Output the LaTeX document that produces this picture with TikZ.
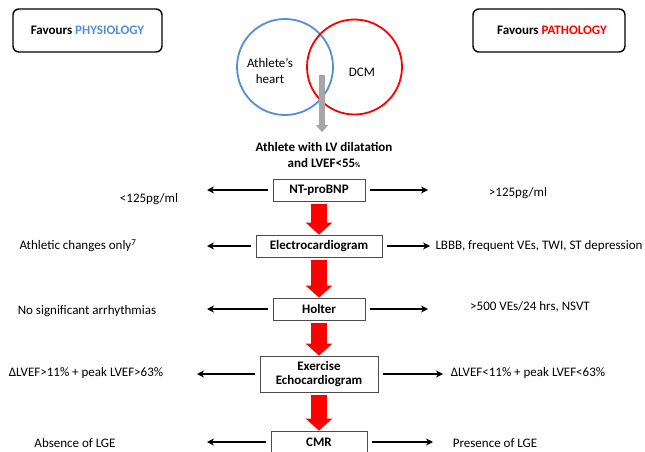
\documentclass[tikz,border=0pt]{standalone}
\usepackage{fontspec}
\setmainfont{Carlito}
\usetikzlibrary{arrows.meta, positioning}

\newcommand{\diagfont}{\fontsize{13}{15.5}\selectfont}

\begin{document}
\begin{tikzpicture}[x=1pt, y=-1pt,
    every node/.style={font=\diagfont},
    box/.style={rectangle, draw=black!70, line width=0.8pt, fill=white, minimum height=22pt, inner sep=2pt, align=center, font=\diagfont\bfseries},
    headbox/.style={rectangle, draw, rounded corners=6pt, line width=1.4pt, minimum height=43pt, font=\diagfont\bfseries},
    venn/.style={circle, line width=1.8pt, inner sep=0pt},
    arrow/.style={-{Stealth[length=7pt, width=7pt]}, line width=1.3pt},
    redarrow/.style={-{Triangle[length=12pt, width=26pt]}, line width=16pt, draw=pathred},
    grayarrow/.style={-{Triangle[length=7pt, width=12pt]}, line width=6pt, draw=arrowgray}]

    % Define colors
    \definecolor{physblue}{RGB}{85,142,213}
    \definecolor{pathred}{RGB}{255,0,0}
    \definecolor{arrowgray}{RGB}{166,166,166}

    \useasboundingbox (0,0) rectangle (645,452);
    \clip (0,0) rectangle (645,452);

    % Header boxes
    \node[headbox, minimum width=149pt] (phys) at (87.5,30.5) {Favours \textcolor{physblue}{PHYSIOLOGY}};
    \node[headbox, minimum width=152pt] (path) at (549,30.5) {\hspace{6pt}Favours \textcolor{pathred}{PATHOLOGY}};

    % Venn diagram
    \node[venn, draw=physblue, minimum size=96pt] (athc) at (285,67) {};
    \node[venn, draw=pathred, minimum size=95pt] (dcmc) at (354.5,67) {};
    \node[align=center] (athl) at (270,71) {Athlete’s\\[1pt]heart};
    \node (dcm) at (362,72) {DCM};
    \coordinate (vennmid) at (322,75);

    \node[align=center, font=\diagfont\bfseries] (start) at (324,155) {Athlete with LV dilatation\\and LVEF<55{\scriptsize\%}};
    \draw[grayarrow, shorten >=7pt] (vennmid) -- (vennmid |- start.north);

    % Tests
    \node[box, minimum width=92pt] (ntbnp) at (319,190) {NT-proBNP};
    \node[box, minimum width=126pt] (ecg) at (319,246) {Electrocardiogram};
    \node[box, minimum width=92pt] (holter) at (319,309) {Holter};
    \node[box, minimum width=118pt, minimum height=36pt] (echo) at (319,374) {Exercise\\[-1pt]Echocardiogram};
    \node[box, minimum width=96pt] (cmr) at (319,442) {CMR};

    % Findings
    \node (ntlow) at (149,199) {<125pg/ml};
    \node (nthigh) at (518,193) {>125pg/ml};
    \node (ecglow) at (78,246) {Athletic changes only\textsuperscript{7}};
    \node[anchor=west] (ecghigh) at (432,246) {LBBB, frequent VEs, TWI, ST depression};
    \node (holterlow) at (87,311) {No significant arrhythmias};
    \node (holterhigh) at (530,307) {>500 VEs/24 hrs, NSVT};
    \node (echolow) at (86,373) {ΔLVEF>11\% + peak LVEF>63\%};
    \node (echohigh) at (528,373) {ΔLVEF<11\% + peak LVEF<63\%};
    \node (cmrlow) at (75,443) {Absence of LGE};
    \node (cmrhigh) at (495,443) {Presence of LGE};

    % Red arrows between tests
    \draw[redarrow] ([yshift=-3pt]ntbnp.south) -- (ecg.north);
    \draw[redarrow] ([yshift=-3pt]ecg.south) -- (holter.north);
    \draw[redarrow] ([yshift=-3pt]holter.south) -- (echo.north);
    \draw[redarrow] ([yshift=-3pt]echo.south) -- (cmr.north);

    % Side arrows
    \coordinate (ntl) at (207,190);
    \coordinate (ntr) at (428,190);
    \coordinate (ecgl) at (207,246);
    \coordinate (ecgr) at (430,246);
    \coordinate (holterl) at (207,309);
    \coordinate (holterr) at (428,309);
    \coordinate (echol) at (197,374);
    \coordinate (echor) at (443,374);
    \coordinate (cmrl) at (207,442);
    \coordinate (cmrr) at (433,442);

    \draw[arrow, shorten <=5pt] (ntbnp.west) -- (ntl);
    \draw[arrow, shorten <=5pt] (ntbnp.east) -- (ntr);
    \draw[arrow, shorten <=5pt] (ecg.west) -- (ecgl);
    \draw[arrow, shorten <=5pt] (ecg.east) -- (ecgr);
    \draw[arrow, shorten <=5pt] (holter.west) -- (holterl);
    \draw[arrow, shorten <=5pt] (holter.east) -- (holterr);
    \draw[arrow, shorten <=5pt] (echo.west) -- (echol);
    \draw[arrow, shorten <=5pt] (echo.east) -- (echor);
    \draw[arrow, shorten <=5pt] (cmr.west) -- (cmrl);
    \draw[arrow, shorten <=5pt] (cmr.east) -- (cmrr);

\end{tikzpicture}
\end{document}
